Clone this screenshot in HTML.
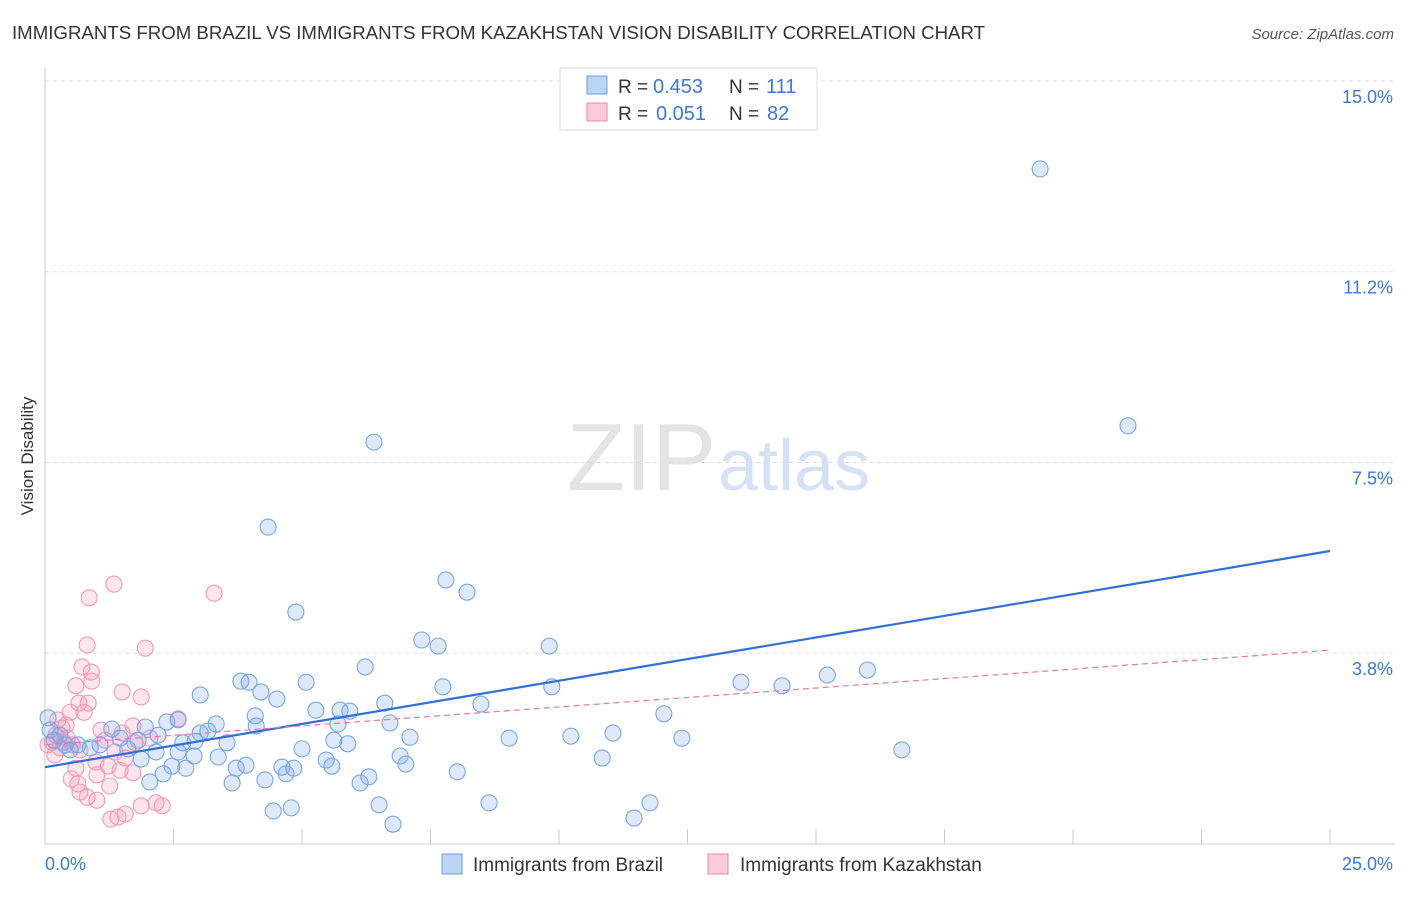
<!DOCTYPE html>
<html><head><meta charset="utf-8"><style>
body{margin:0;background:#fff;font-family:"Liberation Sans",sans-serif}
svg text{font-family:"Liberation Sans",sans-serif}
</style></head><body>
<svg id="c" width="1406" height="892">
<text x="12" y="39" font-size="18" fill="#333" textLength="973" lengthAdjust="spacingAndGlyphs">IMMIGRANTS FROM BRAZIL VS IMMIGRANTS FROM KAZAKHSTAN VISION DISABILITY CORRELATION CHART</text>
<text x="1394" y="39" font-size="15" fill="#555" text-anchor="end" font-style="italic">Source: ZipAtlas.com</text>
<text x="33" y="456" font-size="17" fill="#333" transform="rotate(-90 33 456)" text-anchor="middle">Vision Disability</text>
<text x="716" y="490" font-size="96" fill="#e4e4e4" text-anchor="end" font-family="Liberation Serif">ZIP</text>
<text x="718" y="490" font-size="72" fill="#d4e2f4">atlas</text>
<g id="grid"></g><g id="pts"></g><g id="lines"></g>
<g>
<rect x="560" y="68" width="257" height="62" fill="#fff" stroke="#ddd"/>
<rect x="587" y="76" width="20" height="18" fill="#bcd4f5" stroke="#6a9be0"/>
<rect x="587" y="103" width="20" height="18" fill="#fbcbd9" stroke="#ee8aaa"/>
<text x="618" y="93" font-size="19" fill="#333">R =</text>
<text x="653" y="93" font-size="20" fill="#3b78d8">0.453</text>
<text x="729" y="93" font-size="19" fill="#333">N =</text>
<text x="766" y="93" font-size="20" fill="#3b78d8">111</text>
<text x="618" y="120" font-size="19" fill="#333">R =</text>
<text x="656" y="120" font-size="20" fill="#3b78d8">0.051</text>
<text x="729" y="120" font-size="19" fill="#333">N =</text>
<text x="767" y="120" font-size="20" fill="#3b78d8">82</text>
</g>
<g>
<rect x="442" y="854" width="20" height="20" fill="#bcd4f5" stroke="#6a9be0"/>
<text x="473" y="871" font-size="19" fill="#333">Immigrants from Brazil</text>
<rect x="708" y="854" width="20" height="20" fill="#fbcbd9" stroke="#ee8aaa"/>
<text x="740" y="871" font-size="19" fill="#333">Immigrants from Kazakhstan</text>
</g>
<text x="45" y="870" font-size="18" fill="#3b78d8">0.0%</text>
<text x="1393" y="870" font-size="18" fill="#3b78d8" text-anchor="end">25.0%</text>
</svg>
<script>
const yTicks=[15.0,11.25,7.5,3.75];
const yTickLabels=["15.0%","11.2%","7.5%","3.8%"];
const xTicks=[0,2.5,5,7.5,10,12.5,15,17.5,20,22.5,25];
const brazilX=[19.36,21.07,6.40,4.34,7.80,8.21,4.88,7.33,7.65,9.81,6.23,16.0,15.22,13.54,14.34,9.86,7.74,3.81,3.97,5.08,4.20,4.51,3.02,6.61,8.48,5.27,5.74,5.93,12.04,4.09,2.59,2.37,6.71,5.70,3.33,1.95,4.11,1.30,3.17,3.02,2.20,10.23,11.05,12.39,9.03,7.10,5.62,5.89,3.54,2.68,2.92,1.81,1.46,1.07,0.64,0.39,0.18,0.06,5.00,1.61,2.59,2.16,6.91,3.37,2.90,16.67,10.84,1.87,5.47,7.02,3.91,5.58,2.47,2.74,4.61,3.72,4.84,4.69,8.02,2.30,6.30,4.28,3.64,2.04,6.13,8.64,11.77,6.50,4.79,4.44,11.46,6.77,0.1,0.29,0.49,0.88];
const brazilY=[13.27,8.22,7.90,6.23,5.19,4.95,4.56,4.01,3.89,3.89,3.48,3.42,3.32,3.18,3.11,3.09,3.09,3.20,3.18,3.18,2.99,2.85,2.93,2.77,2.75,2.63,2.63,2.61,2.56,2.52,2.44,2.40,2.38,2.36,2.36,2.30,2.32,2.26,2.22,2.18,2.14,2.12,2.18,2.08,2.08,2.10,2.04,1.97,1.99,1.99,2.02,2.04,2.08,1.95,1.95,1.95,2.04,2.48,1.87,1.87,1.81,1.81,1.73,1.71,1.73,1.85,1.69,1.67,1.65,1.57,1.55,1.53,1.53,1.49,1.51,1.49,1.49,1.38,1.42,1.38,1.32,1.26,1.20,1.22,1.20,0.81,0.81,0.77,0.71,0.65,0.51,0.39,2.24,2.14,1.85,1.89];
const kazX=[1.34,0.86,3.29,0.82,1.95,0.72,0.90,0.91,0.60,1.50,1.87,0.66,0.84,0.76,0.49,2.59,0.25,0.41,1.71,1.09,1.50,0.21,0.43,1.17,1.75,0.06,0.29,0.68,1.36,0.19,1.56,0.99,1.23,0.60,1.46,1.71,1.01,0.51,0.64,1.26,0.68,0.82,1.01,1.87,2.16,2.28,1.56,1.28,1.42,0.33,0.37,0.14,0.53,2.04];
const kazY=[5.11,4.84,4.93,3.91,3.85,3.48,3.38,3.20,3.11,2.99,2.89,2.77,2.77,2.59,2.59,2.46,2.44,2.34,2.32,2.24,2.18,2.14,2.08,2.04,1.99,1.95,1.89,1.85,1.81,1.75,1.69,1.61,1.53,1.49,1.45,1.40,1.36,1.28,1.18,1.14,1.02,0.92,0.86,0.75,0.81,0.75,0.59,0.49,0.53,2.28,2.00,2.00,1.95,2.08];
const brazilFit=[1.51,5.76];
const kazFit=[1.95,3.81];
const NS="http://www.w3.org/2000/svg";
const X=v=>45+v*51.4, Y=v=>844-v*50.87;
function mk(tag,attrs,parent){const e=document.createElementNS(NS,tag);for(const k in attrs)e.setAttribute(k,attrs[k]);parent.appendChild(e);return e;}
const grid=document.getElementById('grid');
yTicks.forEach((t,i)=>{
  const l=mk('line',{x1:45,x2:1395,y1:Y(t),y2:Y(t),stroke:'#ddd','stroke-dasharray':'4 4'},grid);
  
  
  const tx=mk('text',{x:1393,y:Y(t)+22,'font-size':18,fill:'#3b78d8','text-anchor':'end'},grid);
  tx.textContent=yTickLabels[i];
  
  
});
const ax=mk('line',{x1:45,x2:1395,y1:844,y2:844,stroke:'#ccc'},grid);


const ay=mk('line',{x1:45,x2:45,y1:68,y2:844,stroke:'#ccc'},grid);


xTicks.forEach(t=>{
  const l=mk('line',{x1:X(t),x2:X(t),y1:829,y2:844,stroke:'#ccc'},grid);
  
  
});
const pts=document.getElementById('pts');
kazX.forEach((v,i)=>{
  const c=mk('circle',{cx:X(v),cy:Y(kazY[i]),r:8,fill:'rgba(244,150,180,0.25)',stroke:'#f09ab6','stroke-width':1.1},pts);
  
  
});
brazilX.forEach((v,i)=>{
  const c=mk('circle',{cx:X(v),cy:Y(brazilY[i]),r:8,fill:'rgba(120,165,230,0.25)',stroke:'#7aa6e4','stroke-width':1.1},pts);
  
  
});
const lines=document.getElementById('lines');
const bl=mk('line',{x1:X(0),y1:Y(brazilFit[0]),x2:X(25),y2:Y(brazilFit[1]),stroke:'#2f6fd6','stroke-width':2.2},lines);


const kl=mk('line',{x1:X(0),y1:Y(kazFit[0]),x2:X(25),y2:Y(kazFit[1]),stroke:'#e4789c','stroke-width':1.2,'stroke-dasharray':'6 4'},lines);


</script>
</body></html>
